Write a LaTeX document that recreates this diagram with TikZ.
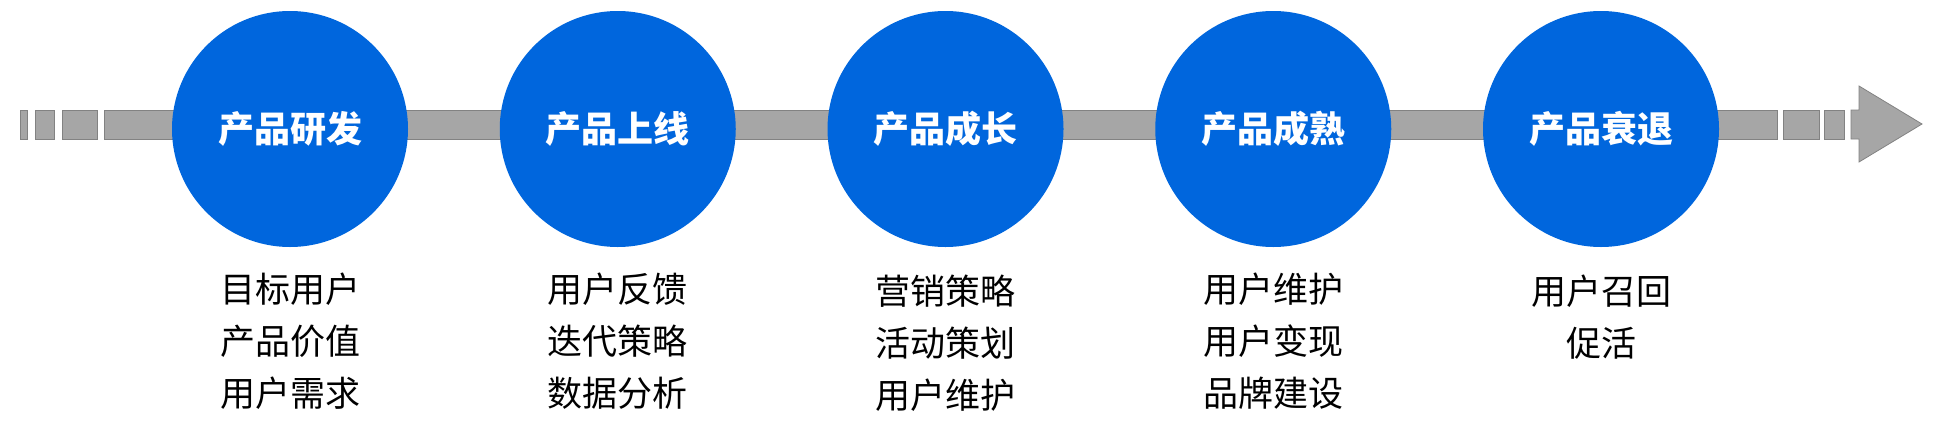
\documentclass[tikz,border=0pt]{standalone}
\usepackage{fontspec}
\newfontfamily\cjk{Noto Sans CJK SC}
\usetikzlibrary{positioning}
\definecolor{stageblue}{RGB}{0,102,221}
\definecolor{bargray}{RGB}{166,166,166}
\definecolor{baredge}{RGB}{130,130,130}

\begin{document}
\begin{tikzpicture}[x=1pt,y=-1pt,
stage/.style={circle,fill=stageblue,minimum size=236pt,inner sep=0pt,text=white,font=\cjk\bfseries\fontsize{36}{40}\selectfont},
notes/.style={align=center,inner sep=0pt,font=\cjk\fontsize{35}{52}\selectfont},
bar/.style={fill=bargray,draw=baredge,line width=0.8pt} ]

\useasboundingbox (0,0) rectangle (1939,437);

\draw[bar] (20,110) rectangle (27,139);

\draw[bar] (35,110) rectangle (54,139);

\draw[bar] (62,110) rectangle (97,139);

\draw[bar] (104,110) rectangle (1777,139);

\draw[bar] (1783,110) rectangle (1819,139);

\draw[bar] (1824,110) rectangle (1844,139);

\draw[bar] (1851,110) -- (1859,110) -- (1859,86) -- (1922,124) -- (1859,162) -- (1859,139) -- (1851,139) -- cycle;

\node[stage](S1) at (290,129) {产品研发};

\node[stage](S2) at (617.75,129) {产品上线};

\node[stage](S3) at (945.5,129) {产品成长};

\node[stage](S4) at (1273.25,129) {产品成熟};

\node[stage](S5) at (1601,129) {产品衰退};

\node[notes,below=26pt of S1](N1) {目标用户\\产品价值\\用户需求};

\node[notes,below=26pt of S2](N2) {用户反馈\\迭代策略\\数据分析};

\node[notes,below=28pt of S3](N3) {营销策略\\活动策划\\用户维护};

\node[notes,below=26pt of S4](N4) {用户维护\\用户变现\\品牌建设};

\node[notes,below=28pt of S5](N5) {用户召回\\促活};

\end{tikzpicture}
\end{document}
